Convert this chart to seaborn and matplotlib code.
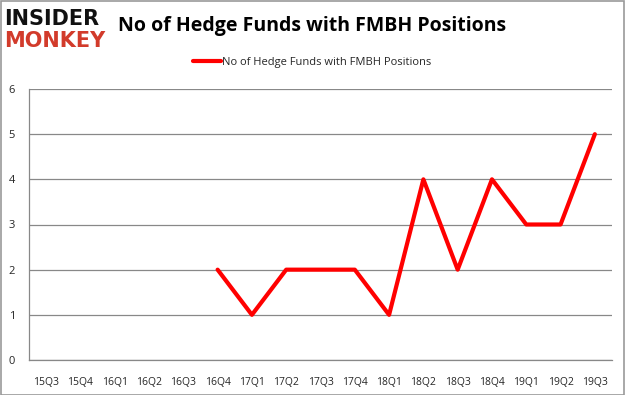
import seaborn as sns
import matplotlib.pyplot as plt
import pandas as pd
import numpy as np

quarters = ['15Q3', '15Q4', '16Q1', '16Q2', '16Q3', '16Q4', '17Q1', '17Q2', '17Q3',
            '17Q4', '18Q1', '18Q2', '18Q3', '18Q4', '19Q1', '19Q2', '19Q3']
funds = [np.nan, np.nan, np.nan, np.nan, np.nan, 2, 1, 2, 2, 2, 1, 4, 2, 4, 3, 3, 5]
series_name = 'No of Hedge Funds with FMBH Positions'

df = pd.DataFrame({'pos': range(len(quarters)), 'quarter': quarters, 'funds': funds})
df = df.dropna()

sns.set_style('white')
plt.rcParams['font.family'] = ['Open Sans', 'DejaVu Sans']

fig = plt.figure(figsize=(6.25, 3.95), dpi=100)
ax = fig.add_axes([29 / 625, 1 - 360 / 395, 583 / 625, 271 / 395])

sns.lineplot(data=df, x='pos', y='funds', color='#ff0000', linewidth=3,
             ax=ax, label=series_name, legend=False)

ax.set_xlim(-0.5, len(quarters) - 0.5)
ax.set_ylim(0, 6)
ax.set_yticks(range(0, 7))
ax.set_xticks(range(len(quarters)))
ax.set_xticklabels(quarters, fontsize=7.5)
ax.set_xticks(np.arange(-0.5, len(quarters), 1), minor=True)
ax.tick_params(axis='x', which='major', length=0, pad=12)
ax.tick_params(axis='x', which='minor', length=4, color='#888888', direction='out')
ax.tick_params(axis='y', length=4, color='#888888', direction='out', labelsize=8, pad=6)
ax.set_xlabel('')
ax.set_ylabel('')
ax.grid(axis='y', color='#888888', linewidth=0.9)
ax.set_axisbelow(True)
for side in ['top', 'right']:
    ax.spines[side].set_visible(False)
for side in ['left', 'bottom']:
    ax.spines[side].set_color('#888888')
    ax.spines[side].set_linewidth(0.9)

# legend and title
handles, labels = ax.get_legend_handles_labels()
fig.legend(handles, labels, loc='center', bbox_to_anchor=(0.5, 1 - 62 / 395),
           frameon=False, fontsize=8, handlelength=2.5, handletextpad=0.1)
fig.text(0.5, 1 - 26 / 395, 'No of Hedge Funds with FMBH Positions',
         ha='center', va='center', fontsize=14, fontweight='bold', color='black')

# logo
fig.text(4 / 625, 1 - 19 / 395, 'INSIDER', fontsize=15, fontweight='bold',
         color='#111111', va='center', ha='left', family='DejaVu Sans')
fig.text(4 / 625, 1 - 41 / 395, 'MONKEY', fontsize=15, fontweight='bold',
         color='#d23b2b', va='center', ha='left', family='DejaVu Sans')

# grey frame around figure
fig.patches.append(plt.Rectangle((0.001, 0.001), 0.998, 0.997, transform=fig.transFigure,
                                 fill=False, edgecolor='#999999', linewidth=1.2))

plt.savefig('out.png', dpi=100)
plt.close()
